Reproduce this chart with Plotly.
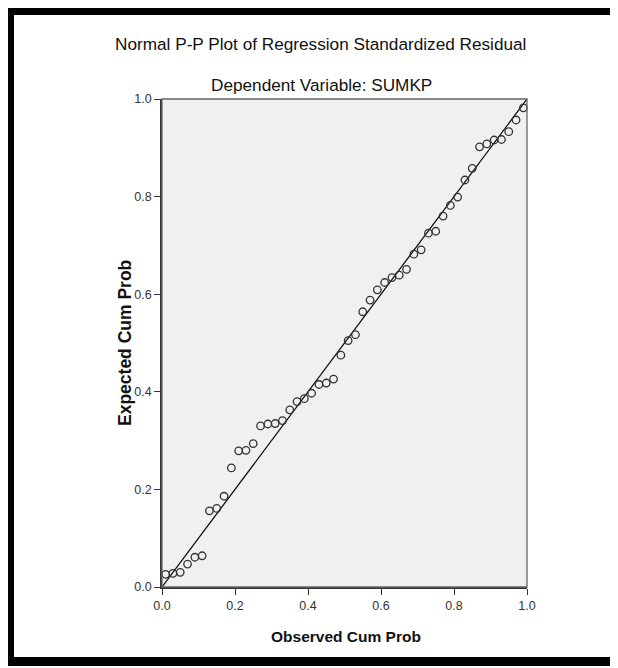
import plotly.graph_objects as go

# ---- data ----
observed_cum_prob = [0.01, 0.03, 0.05, 0.07, 0.09, 0.11, 0.13, 0.15, 0.17, 0.19,
                     0.21, 0.23, 0.25, 0.27, 0.29, 0.31, 0.33, 0.35, 0.37, 0.39,
                     0.41, 0.43, 0.45, 0.47, 0.49, 0.51, 0.53, 0.55, 0.57, 0.59,
                     0.61, 0.63, 0.65, 0.67, 0.69, 0.71, 0.73, 0.75, 0.77, 0.79,
                     0.81, 0.83, 0.85, 0.87, 0.89, 0.91, 0.93, 0.95, 0.97, 0.99]
expected_cum_prob = [0.026, 0.028, 0.030, 0.047, 0.061, 0.064, 0.156, 0.161, 0.186, 0.244,
                     0.279, 0.280, 0.294, 0.330, 0.334, 0.335, 0.341, 0.363, 0.380, 0.386,
                     0.397, 0.415, 0.418, 0.426, 0.475, 0.505, 0.517, 0.564, 0.588, 0.609,
                     0.624, 0.634, 0.639, 0.651, 0.682, 0.691, 0.725, 0.729, 0.760, 0.782,
                     0.799, 0.834, 0.858, 0.902, 0.908, 0.916, 0.917, 0.933, 0.957, 0.982]
reference_line_x = [0.0, 1.0]
reference_line_y = [0.0, 1.0]
tick_values = [0.0, 0.2, 0.4, 0.6, 0.8, 1.0]
tick_labels = ["0.0", "0.2", "0.4", "0.6", "0.8", "1.0"]

title_text = "Normal P-P Plot of Regression Standardized Residual"
subtitle_text = "Dependent Variable: SUMKP"
x_title = "Observed Cum Prob"
y_title = "Expected Cum Prob"

# ---- layout geometry (page pixels; page body has an 8px margin) ----
OFF = 8
W, H = 618 - OFF, 668 - OFF
L, R, T, B = 162 - OFF, 527 - OFF, 99 - OFF, 587 - OFF
PW, PH = R - L, B - T


def px(x):
    return (x - OFF - L) / PW


def py(y):
    return (B - (y - OFF)) / PH


FONT = "Liberation Sans, Arial, sans-serif"

fig = go.Figure()
fig.add_trace(go.Scatter(
    x=reference_line_x, y=reference_line_y, mode="lines",
    line=dict(color="#111111", width=1.3), hoverinfo="skip", showlegend=False))
fig.add_trace(go.Scatter(
    x=observed_cum_prob, y=expected_cum_prob, mode="markers",
    marker=dict(symbol="circle-open", size=7.5, color="#333333",
                line=dict(width=1.3, color="#333333")),
    cliponaxis=False, showlegend=False))

axis_common = dict(
    range=[0, 1], tickvals=tick_values, ticktext=tick_labels,
    ticks="outside", ticklen=6, tickwidth=1.3, tickcolor="#333333",
    showgrid=False, zeroline=False, showline=True, linecolor="#333333", linewidth=1.5,
    tickfont=dict(family=FONT, size=12.5, color="#333333"), fixedrange=True)

fig.update_layout(
    width=W, height=H,
    margin=dict(l=L, r=W - R, t=T, b=H - B, pad=0),
    paper_bgcolor="white", plot_bgcolor="#f0f0f0",
    xaxis=dict(**axis_common),
    yaxis=dict(**axis_common),
    showlegend=False,
)

shapes = []
# plot frame (top/right lighter)
shapes.append(dict(type="rect", xref="paper", yref="paper", x0=0, y0=0, x1=1, y1=1,
                   line=dict(color="#666666", width=1.3), layer="above"))
# outer black border (left, top, bottom; right edge is cut off)
shapes.append(dict(type="rect", xref="paper", yref="paper", x0=px(6), x1=px(14), y0=py(666), y1=py(7),
                   fillcolor="black", line=dict(width=0)))
shapes.append(dict(type="rect", xref="paper", yref="paper", x0=px(6), x1=px(630), y0=py(15), y1=py(7),
                   fillcolor="black", line=dict(width=0)))
shapes.append(dict(type="rect", xref="paper", yref="paper", x0=px(6), x1=px(630), y0=py(666), y1=py(657),
                   fillcolor="black", line=dict(width=0)))
fig.update_layout(shapes=shapes)

annotations = [
    dict(text=title_text, x=px(320), y=py(44), xref="paper", yref="paper",
         showarrow=False, xanchor="center", yanchor="middle",
         font=dict(family=FONT, size=17.2, color="#111111")),
    dict(text=subtitle_text, x=px(321), y=py(85), xref="paper", yref="paper",
         showarrow=False, xanchor="center", yanchor="middle",
         font=dict(family=FONT, size=17.2, color="#111111")),
    dict(text="<b>" + x_title + "</b>", x=px(346), y=py(636), xref="paper", yref="paper",
         showarrow=False, xanchor="center", yanchor="middle",
         font=dict(family=FONT, size=15.5, color="#111111")),
    dict(text="<b>" + y_title + "</b>", x=px(125), y=py(343), xref="paper", yref="paper",
         showarrow=False, xanchor="center", yanchor="middle", textangle=-90,
         font=dict(family=FONT, size=17.5, color="#111111")),
]
fig.update_layout(annotations=annotations)

fig.write_html("out.html", config={"displayModeBar": False})
